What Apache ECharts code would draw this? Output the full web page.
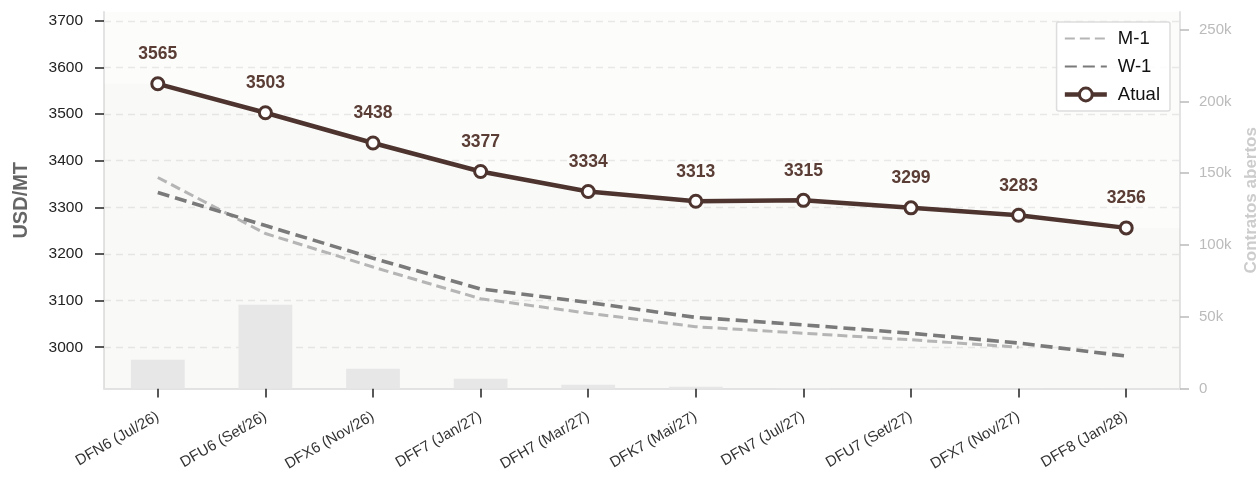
<!DOCTYPE html>
<html>
<head>
<meta charset="utf-8">
<script src="https://cdn.jsdelivr.net/npm/echarts@6/dist/echarts.min.js"></script>
<style>
  html, body { margin: 0; padding: 0; background: #ffffff; }
  #chart { width: 1260px; height: 484px; }
</style>
</head>
<body>
<div id="chart"></div>
<script>
// Contract months on the curve
const categories = [
  'DFN6 (Jul/26)', 'DFU6 (Set/26)', 'DFX6 (Nov/26)', 'DFF7 (Jan/27)', 'DFH7 (Mar/27)',
  'DFK7 (Mai/27)', 'DFN7 (Jul/27)', 'DFU7 (Set/27)', 'DFX7 (Nov/27)', 'DFF8 (Jan/28)'
];
// Current settlement curve (USD/MT)
const atual = [3565, 3503, 3438, 3377, 3334, 3313, 3315, 3299, 3283, 3256];
// Curve one week ago
const w1 = [3332, 3261, 3191, 3125, 3096, 3064, 3048, 3030, 3009, 2981];
// Curve one month ago (no quote for the last month)
const m1 = [3364, 3244, 3172, 3104, 3073, 3044, 3030, 3016, 3000, null];
// Open interest per contract
const openInterest = [20000, 58300, 13700, 6800, 2600, 1200, 300, 200, 150, 100];
// Axis tick values
const priceTicks = [3000, 3100, 3200, 3300, 3400, 3500, 3600, 3700];
const oiTicks = [0, 50000, 100000, 150000, 200000, 250000];

// Shaded band under the current curve, held flat out to the plot edges
const shadeData = [[-0.5, atual[0]]]
  .concat(atual.map((v, i) => [i, v]))
  .concat([[atual.length - 0.5, atual[atual.length - 1]]]);

const FONT = '"Liberation Sans", Arial, Helvetica, sans-serif';
const BROWN = '#4e342e';

const chart = echarts.init(document.getElementById('chart'), null, { renderer: 'canvas' });

chart.setOption({
  animation: false,
  backgroundColor: '#ffffff',
  textStyle: { fontFamily: FONT },
  grid: {
    left: 104, right: 80, top: 12, bottom: 95.5,
    outerBoundsMode: 'none',
    containLabel: false,
    show: true, backgroundColor: '#fcfcfb', borderWidth: 0
  },
  legend: {
    orient: 'vertical',
    right: 90, top: 22,
    padding: [7, 10, 7, 6],
    itemWidth: 42, itemHeight: 16, itemGap: 9,
    borderColor: '#dddddd', borderWidth: 1.5, borderRadius: 2,
    backgroundColor: 'rgba(255,255,255,0.85)',
    textStyle: { fontSize: 18.5, color: '#111', fontFamily: FONT, padding: [0, 0, 0, 6] },
    data: [
      { name: 'M-1', itemStyle: { opacity: 0 } },
      { name: 'W-1', itemStyle: { opacity: 0 } },
      { name: 'Atual', lineStyle: { width: 4.5 }, itemStyle: { borderWidth: 3 } }
    ]
  },
  xAxis: [
    {
      type: 'category',
      data: categories,
      boundaryGap: true,
      axisLine: { show: true, onZero: false, lineStyle: { color: '#e3e3e3', width: 2 } },
      axisTick: { show: true, alignWithLabel: true, length: 9, lineStyle: { color: '#222', width: 1.5 } },
      axisLabel: { interval: 0, rotate: 30, fontSize: 15, color: '#333', margin: 27, fontFamily: FONT },
      splitLine: { show: false }
    },
    {
      type: 'value', min: -0.5, max: categories.length - 0.5, show: false
    }
  ],
  yAxis: [
    {
      type: 'value',
      min: 2911.5, max: 3719,
      name: 'USD/MT',
      nameLocation: 'middle', nameRotate: 90, nameGap: 73,
      nameTextStyle: { fontSize: 20, fontWeight: 'bold', color: '#666', fontFamily: FONT },
      axisLine: { show: true, onZero: false, lineStyle: { color: '#e3e3e3', width: 2 } },
      axisTick: { show: true, length: 9, customValues: priceTicks, lineStyle: { color: '#222', width: 1.5 } },
      axisLabel: {
        customValues: priceTicks, fontSize: 15.5, color: '#222', margin: 21, fontFamily: FONT,
        formatter: v => String(v)
      },
      splitLine: { show: true, lineStyle: { color: '#e8e8e8', width: 1.3, type: [7, 5] } }
    },
    {
      type: 'value',
      min: 0, max: 262300,
      position: 'right',
      name: 'Contratos abertos',
      nameLocation: 'middle', nameRotate: 90, nameGap: 62,
      nameTextStyle: { fontSize: 17, fontWeight: 'bold', color: '#cccccc', fontFamily: FONT },
      axisLine: { show: true, onZero: false, lineStyle: { color: '#e3e3e3', width: 2 } },
      axisTick: { show: true, length: 9, customValues: oiTicks, lineStyle: { color: '#bbbbbb', width: 1.5 } },
      axisLabel: {
        customValues: oiTicks, fontSize: 15, color: '#bbbbbb', margin: 19, fontFamily: FONT,
        formatter: v => (v === 0 ? '0' : (v / 1000) + 'k')
      },
      splitLine: { show: false }
    }
  ],
  series: [
    {
      name: 'shade',
      type: 'line',
      xAxisIndex: 1, yAxisIndex: 0,
      data: shadeData,
      symbol: 'none',
      silent: true,
      lineStyle: { width: 0 },
      areaStyle: { color: 'rgba(60,50,30,0.025)' },
      z: 1
    },
    {
      name: 'Open interest',
      type: 'bar',
      xAxisIndex: 0, yAxisIndex: 1,
      data: openInterest,
      barWidth: '50%',
      itemStyle: { color: '#e7e7e7' },
      z: 2
    },
    {
      name: 'M-1',
      type: 'line',
      xAxisIndex: 0, yAxisIndex: 0,
      data: m1,
      symbol: 'none',
      lineStyle: { color: '#b5b5b5', width: 3, type: [10, 5] },
      itemStyle: { color: '#b5b5b5' },
      z: 3
    },
    {
      name: 'W-1',
      type: 'line',
      xAxisIndex: 0, yAxisIndex: 0,
      data: w1,
      symbol: 'none',
      lineStyle: { color: '#7a7a7a', width: 3.6, type: [12, 6] },
      itemStyle: { color: '#7a7a7a' },
      z: 4
    },
    {
      name: 'Atual',
      type: 'line',
      xAxisIndex: 0, yAxisIndex: 0,
      data: atual,
      symbol: 'circle',
      symbolSize: 12,
      lineStyle: { color: BROWN, width: 4.5 },
      itemStyle: { color: '#ffffff', borderColor: BROWN, borderWidth: 3 },
      label: {
        show: true, position: 'top', distance: 13,
        fontSize: 17.5, fontWeight: 'bold', color: '#5a3d35', fontFamily: FONT
      },
      z: 5
    }
  ]
});
</script>
</body>
</html>
